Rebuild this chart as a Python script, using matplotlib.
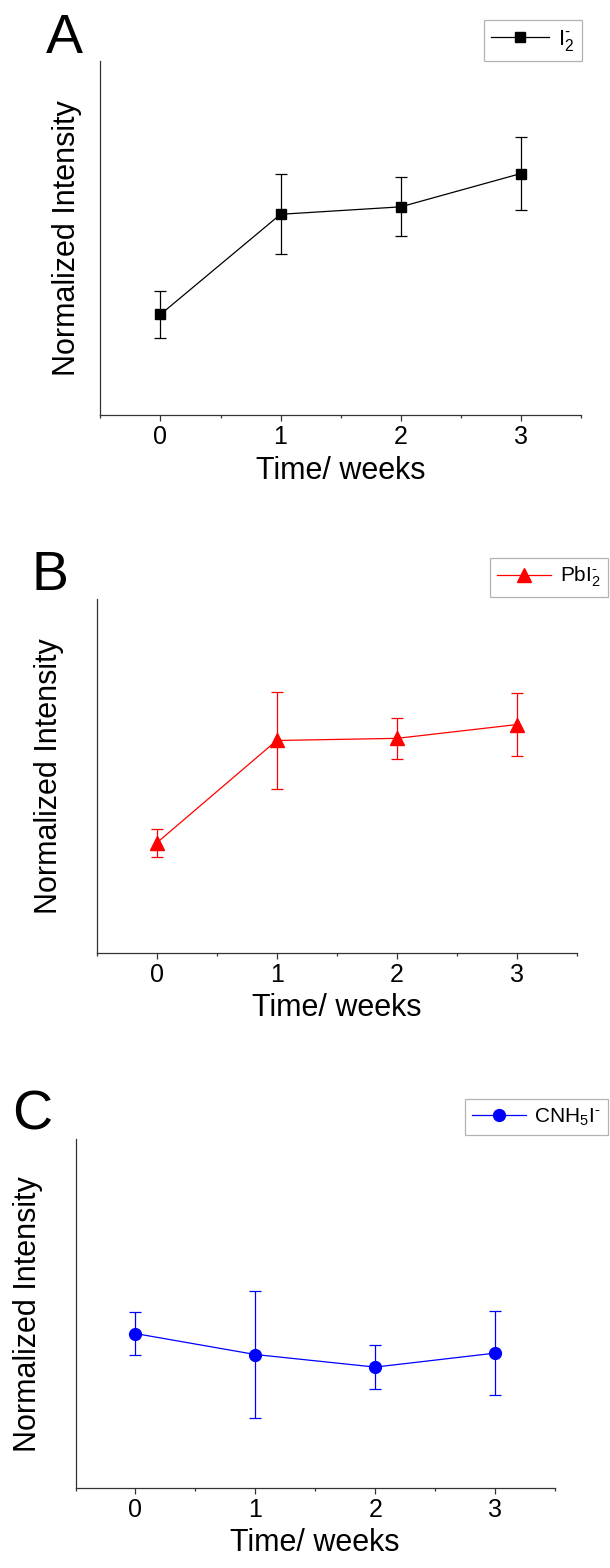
import matplotlib
matplotlib.use("Agg")
import matplotlib.pyplot as plt

plt.rcParams['font.family'] = ['Liberation Sans', 'DejaVu Sans']
plt.rcParams['mathtext.fontset'] = 'custom'
plt.rcParams['mathtext.rm'] = 'Liberation Sans'
plt.rcParams['mathtext.it'] = 'Liberation Sans:italic'

weeks = [0, 1, 2, 3]

# normalized intensity (axis runs 0..1, no y ticks in the original)
i2_vals = [0.284, 0.567, 0.588, 0.682]
i2_errs = [0.067, 0.113, 0.083, 0.103]

pbi2_vals = [0.310, 0.600, 0.606, 0.645]
pbi2_errs = [0.040, 0.136, 0.058, 0.088]

cnh5i_vals = [0.443, 0.383, 0.347, 0.387]
cnh5i_errs = [0.061, 0.181, 0.064, 0.120]

W, H = 610, 1568
fig = plt.figure(figsize=(W / 100, H / 100), dpi=100)

# (left, right, top, bottom) in pixels, panel letter, letter pos, legend corner
panels = [
    dict(box=(100.4, 580.8, 61, 415), letter="A", lpos=(46, 53),
         leg=(582, 20), vals=i2_vals, errs=i2_errs, color="black", marker="s",
         ms=7.2, label=r"I$_{\mathregular{2}}^{\text{-}}$", ylab_x=-0.039, lfs=16),
    dict(box=(96.5, 577, 599, 952.7), letter="B", lpos=(31, 590),
         leg=(608, 557.7), vals=pbi2_vals, errs=pbi2_errs, color="#ff0000", marker="^",
         ms=9.5, label=r"PbI$_{\mathregular{2}}^{\text{-}}$", ylab_x=-0.068, lfs=15),
    dict(box=(75.5, 555, 1139, 1488.3), letter="C", lpos=(12, 1130),
         leg=(608, 1099), vals=cnh5i_vals, errs=cnh5i_errs, color="#0000ff", marker="o",
         ms=8.5, label=r"CNH$_{\mathregular{5}}$I$^{\text{-}}$", ylab_x=-0.068, lfs=15),
]

for p in panels:
    l, r, t, b = p["box"]
    ax = fig.add_axes([l / W, 1 - b / H, (r - l) / W, (b - t) / H])
    ax.errorbar(weeks, p["vals"], yerr=p["errs"], color=p["color"], fmt="none",
                elinewidth=0.9, capsize=4, capthick=0.9)
    ax.plot(weeks, p["vals"], color=p["color"], marker=p["marker"], ms=p["ms"],
            lw=0.9, label=p["label"])
    ax.set_xlim(-0.5, 3.5)
    ax.set_ylim(0, 1)
    ax.set_xticks(weeks)
    ax.set_xticks([-0.5, 0.5, 1.5, 2.5, 3.5], minor=True)
    ax.set_yticks([])
    for s in ("top", "right"):
        ax.spines[s].set_visible(False)
    for s in ("left", "bottom"):
        ax.spines[s].set_color("#333333")
        ax.spines[s].set_linewidth(0.9)
    ax.tick_params(axis="x", which="major", direction="out", length=4, width=0.9,
                   color="#333333", labelsize=18, pad=3.2)
    ax.tick_params(axis="x", which="minor", direction="out", length=2.5, width=0.9,
                   color="#333333")
    ax.set_xlabel("Time/ weeks", fontsize=22)
    ax.xaxis.set_label_coords(0.5, -0.115)
    ax.set_ylabel("Normalized Intensity", fontsize=22)
    ax.yaxis.set_label_coords(p["ylab_x"], 0.5)

    fig.text(p["lpos"][0] / W, 1 - p["lpos"][1] / H, p["letter"], fontsize=40,
             ha="left", va="baseline")

    lx, ly = p["leg"]
    leg = ax.legend(loc="upper right", bbox_to_anchor=(lx / W, 1 - ly / H),
                    bbox_transform=fig.transFigure, borderaxespad=0, fontsize=p["lfs"],
                    frameon=True, fancybox=False, handlelength=2.6,
                    handletextpad=0.4, borderpad=0.35)
    leg.get_frame().set_edgecolor("#a0a0a0")
    leg.get_frame().set_linewidth(0.9)

fig.savefig("out.png", dpi=100)
